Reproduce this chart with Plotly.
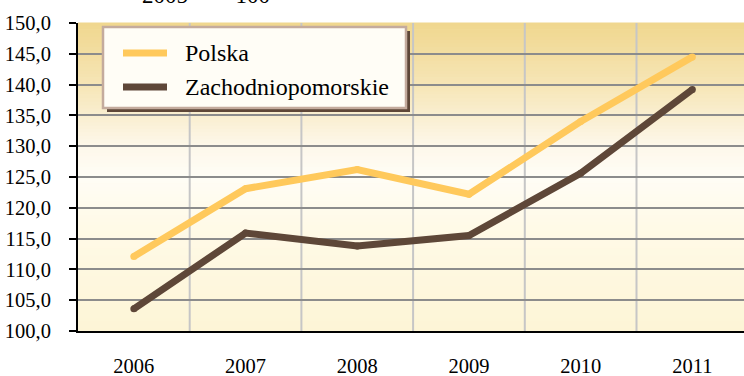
import plotly.graph_objects as go

# Index values, 2005 = 100
years = ["2006", "2007", "2008", "2009", "2010", "2011"]
polska = [112.1, 123.1, 126.2, 122.2, 134.0, 144.5]
zachodniopomorskie = [103.6, 115.9, 113.8, 115.5, 125.6, 139.2]
series_names = ["Polska", "Zachodniopomorskie"]
subtitle = "2005&nbsp;&nbsp;&nbsp;=&nbsp;&nbsp;&nbsp;100"

W, H = 744, 376
L, T, B, R = 78, 23, 45, 0
PW, PH = W - L - R, H - T - B

FONT = "'Times New Roman', 'Liberation Serif', 'DejaVu Serif', serif"
C_PL = "#ffc95c"
C_ZP = "#5e4738"


def px_x(x):
    return (x - L) / PW


def px_y(y):
    return 1 - (y - T) / PH


fig = go.Figure()
for vals, name, col in [(polska, series_names[0], C_PL), (zachodniopomorskie, series_names[1], C_ZP)]:
    # round dots at the vertices give the line rounded ends
    fig.add_trace(go.Scatter(x=years, y=vals, mode="lines+markers", name=name,
                             line=dict(color=col, width=7),
                             marker=dict(color=col, size=7, line=dict(width=0)),
                             showlegend=False))

shapes = []

# vertical gradient behind the plot area
stops = [(0.0, (253, 245, 214)), (0.35, (255, 250, 232)), (0.5, (255, 253, 246)),
         (0.6, (253, 248, 234)), (0.8, (246, 229, 182)), (1.0, (240, 215, 142))]


def grad(p):
    for (p0, c0), (p1, c1) in zip(stops[:-1], stops[1:]):
        if p0 <= p <= p1:
            f = (p - p0) / (p1 - p0)
            return tuple(round(a + (b - a) * f) for a, b in zip(c0, c1))
    return stops[-1][1]


N = 90
for i in range(N):
    y0, y1 = i / N, (i + 1) / N
    r, g, b = grad((y0 + y1) / 2)
    shapes.append(dict(type="rect", xref="paper", yref="paper", x0=0, x1=1, y0=y0, y1=y1 + 0.002,
                       fillcolor=f"rgb({r},{g},{b})", line=dict(width=0), layer="below"))

# legend box with drop shadow
bx0, bx1, by0, by1 = 103, 406, 27, 108
shapes.append(dict(type="rect", xref="paper", yref="paper",
                   x0=px_x(bx0 + 4), x1=px_x(bx1 + 4), y0=px_y(by1 + 4), y1=px_y(by0 + 4),
                   fillcolor="#5e4738", line=dict(width=0), layer="above"))
shapes.append(dict(type="rect", xref="paper", yref="paper",
                   x0=px_x(bx0), x1=px_x(bx1), y0=px_y(by1), y1=px_y(by0),
                   fillcolor="#fffdf6", line=dict(color="#c4ab9d", width=2.5), layer="above"))
legend_rows = [(series_names[0], C_PL, 53), (series_names[1], C_ZP, 87)]
annotations = []
for name, col, yy in legend_rows:
    shapes.append(dict(type="line", xref="paper", yref="paper",
                       x0=px_x(123), x1=px_x(167), y0=px_y(yy), y1=px_y(yy),
                       line=dict(color=col, width=7), layer="above"))
    annotations.append(dict(text=name, xref="paper", yref="paper", x=px_x(183), y=px_y(yy),
                            xanchor="left", yanchor="middle", showarrow=False,
                            font=dict(family=FONT, size=24, color="#000000")))

annotations.append(dict(text=subtitle, xref="paper", yref="paper", x=px_x(206), y=px_y(-5),
                        xanchor="center", yanchor="middle", showarrow=False,
                        font=dict(family=FONT, size=23, color="#000000")))

fig.update_layout(
    template="none",
    width=W, height=H,
    margin=dict(l=L, r=R, t=T, b=B, pad=0),
    paper_bgcolor="#ffffff",
    plot_bgcolor="#fdf5d8",
    separators=", ",
    font=dict(family=FONT, size=20, color="#000000"),
    shapes=shapes,
    annotations=annotations,
    showlegend=False,
)
fig.update_xaxes(
    type="category", range=[-0.5, -0.5 + PW / 111.7], automargin=False,
    showgrid=False, showline=True, linecolor="#000000", linewidth=2,
    ticks="", tickfont=dict(family=FONT, size=20.5, color="#000000"), ticklabelstandoff=15,
    zeroline=False,
)
# vertical separators between categories
for k in range(1, 6):
    fig.add_shape(type="line", xref="x", yref="paper", x0=k - 0.5, x1=k - 0.5, y0=0, y1=1,
                  line=dict(color="#c6c6c6", width=2), layer="below")
fig.update_yaxes(
    range=[100, 150], tick0=100, dtick=5, tickformat=".1f", automargin=False,
    showgrid=True, gridcolor="#8c8c8c", gridwidth=2,
    showline=True, linecolor="#000000", linewidth=2,
    ticks="outside", ticklen=7, tickwidth=2, tickcolor="#000000",
    tickfont=dict(family=FONT, size=20.5, color="#000000"), ticklabelstandoff=14,
    zeroline=False,
)

fig.write_html("out.html")
